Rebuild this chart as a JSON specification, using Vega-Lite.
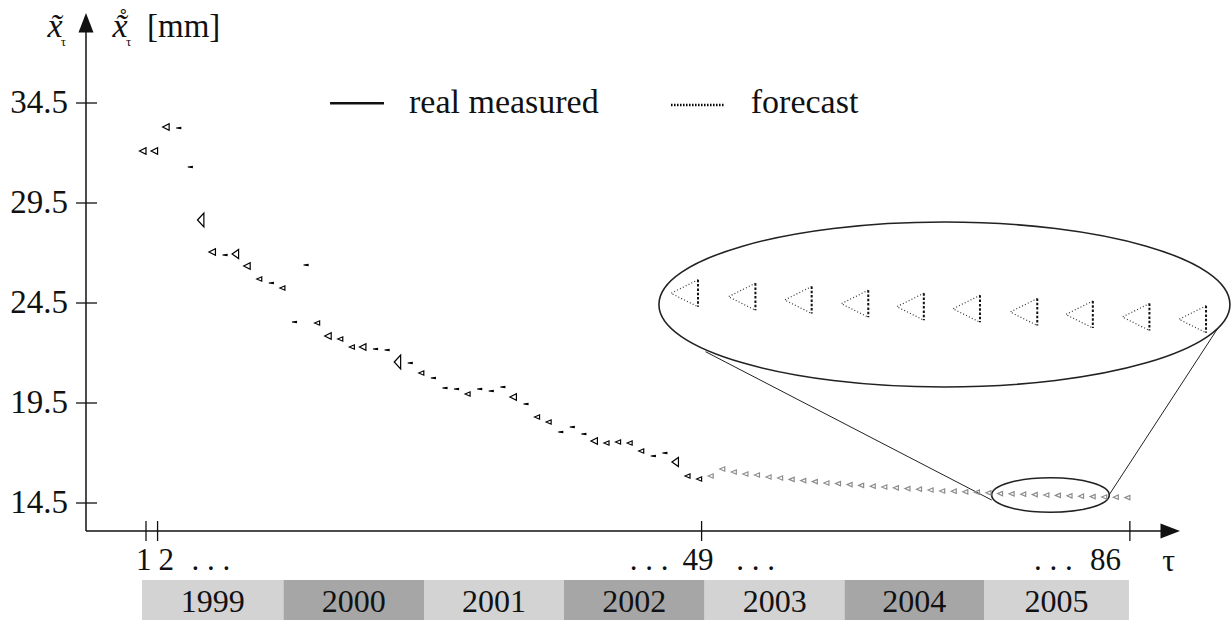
{
"$schema":"https://vega.github.io/schema/vega-lite/v6.json",
"width":1231,"height":621,"autosize":{"type":"none"},"padding":0,"background":"white",
"config":{"view":{"stroke":null},"font":"Liberation Serif, Times New Roman, DejaVu Serif, serif","text":{"font":"Liberation Serif, Times New Roman, DejaVu Serif, serif","fontSize":33,"color":"#111"}},
"data":{"values":[{}]},
"datasets":{
"pts":[
{"t":1,"v":32.1,"series":"measured","g":"M"},
{"t":2,"v":32.1,"series":"measured","g":"M"},
{"t":3,"v":33.3,"series":"measured","g":"M"},
{"t":4,"v":33.25,"series":"measured","g":"D"},
{"t":5,"v":31.3,"series":"measured","g":"D"},
{"t":6,"v":28.65,"series":"measured","g":"L"},
{"t":7,"v":27.05,"series":"measured","g":"M"},
{"t":8,"v":26.9,"series":"measured","g":"D"},
{"t":9,"v":26.95,"series":"measured","g":"T"},
{"t":10,"v":26.35,"series":"measured","g":"M"},
{"t":11,"v":25.7,"series":"measured","g":"S"},
{"t":12,"v":25.5,"series":"measured","g":"D"},
{"t":13,"v":25.25,"series":"measured","g":"S"},
{"t":14,"v":23.55,"series":"measured","g":"D"},
{"t":15,"v":26.4,"series":"measured","g":"D"},
{"t":16,"v":23.5,"series":"measured","g":"S"},
{"t":17,"v":22.85,"series":"measured","g":"M"},
{"t":18,"v":22.7,"series":"measured","g":"S"},
{"t":19,"v":22.3,"series":"measured","g":"S"},
{"t":20,"v":22.3,"series":"measured","g":"M"},
{"t":21,"v":22.2,"series":"measured","g":"D"},
{"t":22,"v":22.15,"series":"measured","g":"D"},
{"t":23,"v":21.55,"series":"measured","g":"L"},
{"t":24,"v":21.5,"series":"measured","g":"D"},
{"t":25,"v":21.0,"series":"measured","g":"S"},
{"t":26,"v":20.75,"series":"measured","g":"D"},
{"t":27,"v":20.25,"series":"measured","g":"D"},
{"t":28,"v":20.2,"series":"measured","g":"D"},
{"t":29,"v":19.95,"series":"measured","g":"S"},
{"t":30,"v":20.2,"series":"measured","g":"D"},
{"t":31,"v":20.1,"series":"measured","g":"D"},
{"t":32,"v":20.3,"series":"measured","g":"D"},
{"t":33,"v":19.8,"series":"measured","g":"M"},
{"t":34,"v":19.45,"series":"measured","g":"D"},
{"t":35,"v":18.8,"series":"measured","g":"S"},
{"t":36,"v":18.55,"series":"measured","g":"S"},
{"t":37,"v":18.05,"series":"measured","g":"D"},
{"t":38,"v":18.3,"series":"measured","g":"D"},
{"t":39,"v":17.95,"series":"measured","g":"D"},
{"t":40,"v":17.6,"series":"measured","g":"M"},
{"t":41,"v":17.5,"series":"measured","g":"S"},
{"t":42,"v":17.55,"series":"measured","g":"S"},
{"t":43,"v":17.5,"series":"measured","g":"S"},
{"t":44,"v":17.1,"series":"measured","g":"S"},
{"t":45,"v":16.85,"series":"measured","g":"D"},
{"t":46,"v":17.0,"series":"measured","g":"D"},
{"t":47,"v":16.55,"series":"measured","g":"T"},
{"t":48,"v":15.85,"series":"measured","g":"S"},
{"t":49,"v":15.7,"series":"measured","g":"S"},
{"t":50,"v":15.85,"series":"forecast","g":"S"},
{"t":51,"v":16.2,"series":"forecast","g":"S"},
{"t":52,"v":16.05,"series":"forecast","g":"S"},
{"t":53,"v":15.95,"series":"forecast","g":"S"},
{"t":54,"v":15.9,"series":"forecast","g":"S"},
{"t":55,"v":15.8,"series":"forecast","g":"S"},
{"t":56,"v":15.75,"series":"forecast","g":"S"},
{"t":57,"v":15.68,"series":"forecast","g":"S"},
{"t":58,"v":15.62,"series":"forecast","g":"S"},
{"t":59,"v":15.57,"series":"forecast","g":"S"},
{"t":60,"v":15.5,"series":"forecast","g":"S"},
{"t":61,"v":15.47,"series":"forecast","g":"S"},
{"t":62,"v":15.42,"series":"forecast","g":"S"},
{"t":63,"v":15.38,"series":"forecast","g":"S"},
{"t":64,"v":15.34,"series":"forecast","g":"S"},
{"t":65,"v":15.3,"series":"forecast","g":"S"},
{"t":66,"v":15.26,"series":"forecast","g":"S"},
{"t":67,"v":15.22,"series":"forecast","g":"S"},
{"t":68,"v":15.19,"series":"forecast","g":"S"},
{"t":69,"v":15.15,"series":"forecast","g":"S"},
{"t":70,"v":15.1,"series":"forecast","g":"S"},
{"t":71,"v":15.09,"series":"forecast","g":"S"},
{"t":72,"v":15.06,"series":"forecast","g":"S"},
{"t":73,"v":15.04,"series":"forecast","g":"S"},
{"t":74,"v":15.01,"series":"forecast","g":"S"},
{"t":75,"v":14.97,"series":"forecast","g":"S"},
{"t":76,"v":14.96,"series":"forecast","g":"S"},
{"t":77,"v":14.94,"series":"forecast","g":"S"},
{"t":78,"v":14.92,"series":"forecast","g":"S"},
{"t":79,"v":14.9,"series":"forecast","g":"S"},
{"t":80,"v":14.88,"series":"forecast","g":"S"},
{"t":81,"v":14.86,"series":"forecast","g":"S"},
{"t":82,"v":14.84,"series":"forecast","g":"S"},
{"t":83,"v":14.82,"series":"forecast","g":"S"},
{"t":84,"v":14.8,"series":"forecast","g":"S"},
{"t":85,"v":14.79,"series":"forecast","g":"S"},
{"t":86,"v":14.77,"series":"forecast","g":"S"}
],
"bands":[
{"year":"1999","t":0.654,"t2":12.879,"tm":6.77},
{"year":"2000","t":12.879,"t2":25.017,"tm":18.95},
{"year":"2001","t":25.017,"t2":37.112,"tm":31.06},
{"year":"2002","t":37.112,"t2":49.26,"tm":43.19},
{"year":"2003","t":49.26,"t2":61.35,"tm":55.31},
{"year":"2004","t":61.35,"t2":73.4,"tm":67.38},
{"year":"2005","t":73.4,"t2":85.92,"tm":79.66}
],
"yt":[{"v":14.5},{"v":19.5},{"v":24.5},{"v":29.5},{"v":34.5}],
"xt":[{"t":1},{"t":2},{"t":49},{"t":86}],
"xl":[
{"t":0.8,"s":"1"},{"t":2.75,"s":"2"},{"t":6.6,"s":". . ."},
{"t":44.46,"s":". . ."},{"t":48.7,"s":"49"},{"t":53.66,"s":". . ."},
{"t":79.4,"s":". . ."},{"t":83.9,"s":"86"}
],
"mag":[
{"t":48.69,"v":24.985},{"t":53.65,"v":24.815},{"t":58.51,"v":24.65},{"t":63.4,"v":24.465},{"t":68.2,"v":24.315},
{"t":73.05,"v":24.21},{"t":78.0,"v":24.05},{"t":82.8,"v":23.925},{"t":87.69,"v":23.8},{"t":92.58,"v":23.685}
],
"links":[
{"t":49.34,"v":22.065,"t2":74.06,"v2":14.65},
{"t":84.2,"v":14.9,"t2":93.61,"v2":23.25}
]
},
"layer":[
{"data":{"name":"bands"},"mark":{"type":"rect"},
 "encoding":{"x":{"field":"t","type":"quantitative","scale":{"domain":[-11.6134,94.737],"nice":false,"zero":false},"axis":null},"x2":{"field":"t2"},
 "y":{"datum":8.65,"type":"quantitative","scale":{"domain":[8.6,39.65],"nice":false,"zero":false},"axis":null},"y2":{"datum":10.65},
 "color":{"field":"year","type":"nominal","scale":{"domain":["1999","2000","2001","2002","2003","2004","2005"],"range":["#d3d3d3","#a6a6a6","#d3d3d3","#a6a6a6","#d3d3d3","#a6a6a6","#d3d3d3"]},"legend":null}}},
{"data":{"name":"bands"},"mark":{"type":"text","align":"center","baseline":"alphabetic","fontSize":32},
 "encoding":{"x":{"field":"tm","type":"quantitative","scale":{"domain":[-11.6134,94.737],"nice":false,"zero":false},"axis":null},
 "y":{"datum":9.05,"type":"quantitative","scale":{"domain":[8.6,39.65],"nice":false,"zero":false},"axis":null},"text":{"field":"year"}}},
{"mark":{"type":"rule","strokeWidth":1.5,"color":"#111"},
 "encoding":{"x":{"datum":-4.184,"type":"quantitative","scale":{"domain":[-11.6134,94.737],"nice":false,"zero":false},"axis":null},
 "y":{"datum":13.1,"type":"quantitative","scale":{"domain":[8.6,39.65],"nice":false,"zero":false},"axis":null},"y2":{"datum":38.2}}},
{"mark":{"type":"rule","strokeWidth":1.5,"color":"#111"},
 "encoding":{"x":{"datum":-4.184,"type":"quantitative","scale":{"domain":[-11.6134,94.737],"nice":false,"zero":false},"axis":null},"x2":{"datum":88.8},
 "y":{"datum":13.1,"type":"quantitative","scale":{"domain":[8.6,39.65],"nice":false,"zero":false},"axis":null}}},
{"mark":{"type":"point","shape":"M0,0L0.5,1.3L-0.5,1.3Z","filled":true,"color":"#111","opacity":1,"size":900},
 "encoding":{"x":{"datum":-4.184,"type":"quantitative","scale":{"domain":[-11.6134,94.737],"nice":false,"zero":false},"axis":null},
 "y":{"datum":39.0,"type":"quantitative","scale":{"domain":[8.6,39.65],"nice":false,"zero":false},"axis":null}}},
{"mark":{"type":"point","shape":"M0,0L-1.3,-0.5L-1.3,0.5Z","filled":true,"color":"#111","opacity":1,"size":900},
 "encoding":{"x":{"datum":90.33,"type":"quantitative","scale":{"domain":[-11.6134,94.737],"nice":false,"zero":false},"axis":null},
 "y":{"datum":13.1,"type":"quantitative","scale":{"domain":[8.6,39.65],"nice":false,"zero":false},"axis":null}}},
{"data":{"name":"yt"},"mark":{"type":"rule","strokeWidth":1.3,"color":"#111"},
 "encoding":{"x":{"datum":-5.05,"type":"quantitative","scale":{"domain":[-11.6134,94.737],"nice":false,"zero":false},"axis":null},"x2":{"datum":-3.23},
 "y":{"field":"v","type":"quantitative","scale":{"domain":[8.6,39.65],"nice":false,"zero":false},"axis":null}}},
{"data":{"name":"yt"},"mark":{"type":"text","fontSize":33,"align":"right","baseline":"alphabetic","dy":10},
 "encoding":{"x":{"datum":-5.74,"type":"quantitative","scale":{"domain":[-11.6134,94.737],"nice":false,"zero":false},"axis":null},
 "y":{"field":"v","type":"quantitative","scale":{"domain":[8.6,39.65],"nice":false,"zero":false},"axis":null},"text":{"field":"v","type":"quantitative","format":".1f"}}},
{"data":{"name":"xt"},"mark":{"type":"rule","strokeWidth":1.3,"color":"#111"},
 "encoding":{"x":{"field":"t","type":"quantitative","scale":{"domain":[-11.6134,94.737],"nice":false,"zero":false},"axis":null},
 "y":{"datum":13.6,"type":"quantitative","scale":{"domain":[8.6,39.65],"nice":false,"zero":false},"axis":null},"y2":{"datum":12.6}}},
{"data":{"name":"xl"},"mark":{"type":"text","fontSize":31,"align":"center","baseline":"alphabetic"},
 "encoding":{"x":{"field":"t","type":"quantitative","scale":{"domain":[-11.6134,94.737],"nice":false,"zero":false},"axis":null},
 "y":{"datum":11.15,"type":"quantitative","scale":{"domain":[8.6,39.65],"nice":false,"zero":false},"axis":null},"text":{"field":"s"}}},
{"mark":{"type":"text","align":"center","baseline":"alphabetic","fontSize":32},
 "encoding":{"x":{"datum":89.35,"type":"quantitative","scale":{"domain":[-11.6134,94.737],"nice":false,"zero":false},"axis":null},
 "y":{"datum":11.1,"type":"quantitative","scale":{"domain":[8.6,39.65],"nice":false,"zero":false},"axis":null},"text":{"value":"τ"}}},
{"mark":{"type":"rule","strokeWidth":2.5,"color":"#111"},
 "encoding":{"x":{"datum":16.9,"type":"quantitative","scale":{"domain":[-11.6134,94.737],"nice":false,"zero":false},"axis":null},"x2":{"datum":21.56},
 "y":{"datum":34.485,"type":"quantitative","scale":{"domain":[8.6,39.65],"nice":false,"zero":false},"axis":null}}},
{"mark":{"type":"rule","strokeWidth":2.6,"color":"#000","strokeDash":[1.5,1.5]},
 "encoding":{"x":{"datum":46.36,"type":"quantitative","scale":{"domain":[-11.6134,94.737],"nice":false,"zero":false},"axis":null},"x2":{"datum":50.94},
 "y":{"datum":34.4,"type":"quantitative","scale":{"domain":[8.6,39.65],"nice":false,"zero":false},"axis":null}}},
{"mark":{"type":"text","fontSize":34,"align":"left","baseline":"alphabetic"},
 "encoding":{"x":{"datum":23.72,"type":"quantitative","scale":{"domain":[-11.6134,94.737],"nice":false,"zero":false},"axis":null},
 "y":{"datum":33.985,"type":"quantitative","scale":{"domain":[8.6,39.65],"nice":false,"zero":false},"axis":null},"text":{"value":"real measured"}}},
{"mark":{"type":"text","fontSize":34,"align":"left","baseline":"alphabetic"},
 "encoding":{"x":{"datum":53.25,"type":"quantitative","scale":{"domain":[-11.6134,94.737],"nice":false,"zero":false},"axis":null},
 "y":{"datum":33.985,"type":"quantitative","scale":{"domain":[8.6,39.65],"nice":false,"zero":false},"axis":null},"text":{"value":"forecast"}}},
{"mark":{"type":"text","align":"center","baseline":"alphabetic","fontStyle":"italic","fontSize":34},
 "encoding":{"x":{"datum":-6.86,"type":"quantitative","scale":{"domain":[-11.6134,94.737],"nice":false,"zero":false},"axis":null},
 "y":{"datum":37.8,"type":"quantitative","scale":{"domain":[8.6,39.65],"nice":false,"zero":false},"axis":null},"text":{"value":"x̃"}}},
{"mark":{"type":"text","align":"center","baseline":"alphabetic","fontSize":13},
 "encoding":{"x":{"datum":-6.13,"type":"quantitative","scale":{"domain":[-11.6134,94.737],"nice":false,"zero":false},"axis":null},
 "y":{"datum":37.35,"type":"quantitative","scale":{"domain":[8.6,39.65],"nice":false,"zero":false},"axis":null},"text":{"value":"τ"}}},
{"mark":{"type":"text","align":"center","baseline":"alphabetic","fontStyle":"italic","fontSize":34},
 "encoding":{"x":{"datum":-1.246,"type":"quantitative","scale":{"domain":[-11.6134,94.737],"nice":false,"zero":false},"axis":null},
 "y":{"datum":37.8,"type":"quantitative","scale":{"domain":[8.6,39.65],"nice":false,"zero":false},"axis":null},"text":{"value":"x̃"}}},
{"mark":{"type":"text","align":"center","baseline":"alphabetic","fontSize":26},
 "encoding":{"x":{"datum":-0.95,"type":"quantitative","scale":{"domain":[-11.6134,94.737],"nice":false,"zero":false},"axis":null},
 "y":{"datum":38.3,"type":"quantitative","scale":{"domain":[8.6,39.65],"nice":false,"zero":false},"axis":null},"text":{"value":"˚"}}},
{"mark":{"type":"text","align":"center","baseline":"alphabetic","fontSize":13},
 "encoding":{"x":{"datum":-0.51,"type":"quantitative","scale":{"domain":[-11.6134,94.737],"nice":false,"zero":false},"axis":null},
 "y":{"datum":37.35,"type":"quantitative","scale":{"domain":[8.6,39.65],"nice":false,"zero":false},"axis":null},"text":{"value":"τ"}}},
{"mark":{"type":"text","align":"left","baseline":"alphabetic","fontSize":33},
 "encoding":{"x":{"datum":1.086,"type":"quantitative","scale":{"domain":[-11.6134,94.737],"nice":false,"zero":false},"axis":null},
 "y":{"datum":37.8,"type":"quantitative","scale":{"domain":[8.6,39.65],"nice":false,"zero":false},"axis":null},"text":{"value":"[mm]"}}},
{"mark":{"type":"point","shape":"M-1,0C-1,-0.1596,-0.5523,-0.289,0,-0.289C0.5523,-0.289,1,-0.1596,1,0C1,0.1596,0.5523,0.289,0,0.289C-0.5523,0.289,-1,0.1596,-1,0Z","filled":false,"stroke":"#222","strokeWidth":1.6,"opacity":1,"size":326041},
 "encoding":{"x":{"datum":69.98,"type":"quantitative","scale":{"domain":[-11.6134,94.737],"nice":false,"zero":false},"axis":null},
 "y":{"datum":24.425,"type":"quantitative","scale":{"domain":[8.6,39.65],"nice":false,"zero":false},"axis":null}}},
{"mark":{"type":"point","shape":"M-1,0C-1,-0.1624,-0.5523,-0.294,0,-0.294C0.5523,-0.294,1,-0.1624,1,0C1,0.1624,0.5523,0.294,0,0.294C-0.5523,0.294,-1,0.1624,-1,0Z","filled":false,"stroke":"#222","strokeWidth":1.6,"opacity":1,"size":13830},
 "encoding":{"x":{"datum":79.14,"type":"quantitative","scale":{"domain":[-11.6134,94.737],"nice":false,"zero":false},"axis":null},
 "y":{"datum":14.9,"type":"quantitative","scale":{"domain":[8.6,39.65],"nice":false,"zero":false},"axis":null}}},
{"data":{"name":"links"},"mark":{"type":"rule","strokeWidth":1,"color":"#222"},
 "encoding":{"x":{"field":"t","type":"quantitative","scale":{"domain":[-11.6134,94.737],"nice":false,"zero":false},"axis":null},"x2":{"field":"t2"},
 "y":{"field":"v","type":"quantitative","scale":{"domain":[8.6,39.65],"nice":false,"zero":false},"axis":null},"y2":{"field":"v2"}}},
{"data":{"name":"mag"},"mark":{"type":"point","shape":"M0,-1L-2,0L0,1","filled":false,"stroke":"#333","strokeWidth":1.2,"strokeDash":[1,2.2],"opacity":1,"size":729},
 "encoding":{"x":{"field":"t","type":"quantitative","scale":{"domain":[-11.6134,94.737],"nice":false,"zero":false},"axis":null},
 "y":{"field":"v","type":"quantitative","scale":{"domain":[8.6,39.65],"nice":false,"zero":false},"axis":null}}},
{"data":{"name":"mag"},"mark":{"type":"point","shape":"M0,-1L0,1","filled":false,"stroke":"#111","strokeWidth":2,"strokeDash":[2.5,1.8],"opacity":1,"size":729},
 "encoding":{"x":{"field":"t","type":"quantitative","scale":{"domain":[-11.6134,94.737],"nice":false,"zero":false},"axis":null},
 "y":{"field":"v","type":"quantitative","scale":{"domain":[8.6,39.65],"nice":false,"zero":false},"axis":null}}},
{"data":{"name":"pts"},"mark":{"type":"point","filled":false,"strokeWidth":1.2,"opacity":1,"size":16},
 "encoding":{"x":{"field":"t","type":"quantitative","scale":{"domain":[-11.6134,94.737],"nice":false,"zero":false},"axis":null},
 "y":{"field":"v","type":"quantitative","scale":{"domain":[8.6,39.65],"nice":false,"zero":false},"axis":null},
 "shape":{"field":"g","type":"nominal","scale":{"domain":["M","S","D","L","T"],"range":["M-3.25,0L0,-1.625L0,1.625Z","M-2.5,0L0,-1.1L0,1.1Z","M-2.25,0L0,-0.3L0,0.3Z","M-3.2,0L0,-3.5L0,3.5Z","M-3.25,0L0,-2.25L0,2.25Z"]},"legend":null},
 "stroke":{"field":"series","type":"nominal","scale":{"domain":["measured","forecast"],"range":["#000000","#8c8c8c"]},"legend":null}}}
]
}
